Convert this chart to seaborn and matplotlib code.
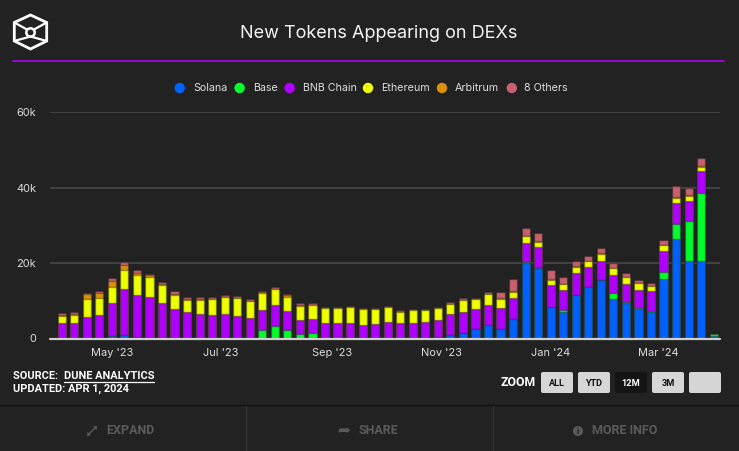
#============================= IMPORT LIBRARIES =============================

import matplotlib
matplotlib.use("Agg")
import matplotlib.pyplot as plt
from matplotlib.patches import Circle, Polygon, FancyBboxPatch
import numpy as np
import pandas as pd
import seaborn as sns

#============================= DATA ==============================

start_date = "2023-04-03"
weeks = pd.date_range(start_date, periods=53, freq="7D")

solana = [0, 0, 0, 0, 700, 970, 440, 260, 260, 0, 0, 0, 0, 0, 0, 0, 0, 0,
          0, 0, 0, 0, 0, 0, 0, 0, 0, 0, 0, 0, 440, 970, 1500, 2570, 3450, 2570,
          5220, 19900, 18600, 8230, 7080, 11600, 13540, 15400, 10350, 9290,
          7880, 7080, 15660, 26460, 20620, 20620, 700]
base = [0, 0, 0, 0, 0, 0, 0, 0, 0, 0, 0, 0, 0, 0, 0, 0, 2300, 3360,
        2300, 1240, 1500, 350, 350, 180, 0, 0, 0, 0, 0, 0, 0, 0, 0, 0, 0, 0,
        0, 265, 0, 0, 350, 0, 0, 0, 1590, 440, 265, 265, 2040, 3980, 10620,
        17970, 620]
bnb = [3980, 4160, 5750, 6280, 8760, 12200, 10970, 10800, 9200, 7880, 7080,
       6550, 6280, 6550, 6020, 5490, 5310, 5580, 5040, 3720, 3720, 3800, 3800,
       3980, 3540, 3890, 4430, 4070, 4070, 4430, 4510, 5580, 5580, 5310, 5490,
       5580, 5580, 5220, 5660, 5840, 5490, 5840, 5490, 5220, 4960, 4780, 4780,
       5220, 5490, 5490, 5220, 5840, 0]
ethereum = [1950, 1950, 4600, 4340, 4070, 4870, 5310, 5130, 4600, 3630, 3010,
            3540, 4070, 4340, 4600, 4340, 4510, 4070, 3720, 3540, 3540, 3800,
            3800, 4070, 4160, 3800, 3800, 3010, 3360, 3010, 3010, 2480, 3010,
            2480, 2740, 2390, 1590, 1680, 1330, 1420, 1420, 1590, 1420, 1860,
            1680, 1680, 1680, 1240, 1500, 1420, 1330, 970, 0]
arbitrum = [350, 440, 1330, 1420, 1770, 1500, 700, 530, 440, 180, 440, 440,
            180, 180, 180, 180, 180, 180, 350, 350, 180, 180, 180, 180, 180,
            180, 180, 180, 180, 180, 180, 180, 180, 180, 180, 180, 180, 180,
            180, 180, 180, 180, 180, 180, 180, 180, 180, 180, 180, 180, 180,
            350, 0]
others = [440, 440, 350, 530, 700, 700, 700, 350, 440, 880, 440, 440, 440, 440,
          440, 440, 265, 440, 350, 530, 440, 180, 180, 180, 180, 180, 180, 265,
          180, 180, 180, 440, 440, 180, 440, 1590, 3100, 1950, 2120, 2390, 1680,
          1240, 1150, 1240, 1150, 880, 620, 620, 1150, 2830, 1860, 2040, 0]

series_names = ["Solana", "Base", "BNB Chain", "Ethereum", "Arbitrum", "8 Others"]
series_values = [solana, base, bnb, ethereum, arbitrum, others]
series_colors = ["#0061ff", "#00ff2a", "#b000ff", "#eeff00", "#dc9205", "#c8606e"]

y_ticks = [0, 20000, 40000, 60000]
y_tick_labels = ["0", "20k", "40k", "60k"]
month_ticks = ["2023-05-01", "2023-07-01", "2023-09-01", "2023-11-01", "2024-01-01", "2024-03-01"]
month_labels = ["May '23", "Jul '23", "Sep '23", "Nov '23", "Jan '24", "Mar '24"]

#============================= FIGURE ==============================

bg = "#222222"
W, H = 739, 451

sns.set_theme(style="dark", rc={"axes.facecolor": bg, "figure.facecolor": bg})
plt.rcParams["font.family"] = ["Inter", "DejaVu Sans"]

fig = plt.figure(figsize=(W / 100, H / 100), dpi=100)

# chart area in pixels
left, right, top, bottom = 50, 720, 112, 338.5
ax = fig.add_axes([left / W, 1 - bottom / H, (right - left) / W, (bottom - top) / H])

#============================= STACKED BARS ==============================

# cumulative heights drawn from the tallest layer down
labels = [str(i) for i in range(len(weeks))]
cum = np.cumsum(np.array(series_values), axis=0)
for i in range(len(series_names) - 1, -1, -1):
    sns.barplot(x=labels, y=cum[i], color=series_colors[i], saturation=1, width=0.65,
                edgecolor=(0.13, 0.13, 0.13, 0.4), linewidth=1.0, ax=ax, zorder=3)

ax.set_xlim(-0.93, 52.5)
ax.set_ylim(0, 60000)
ax.set_xlabel("")
ax.set_ylabel("")

tick_pos = [(pd.Timestamp(d) - weeks[0]).days / 7 for d in month_ticks]
ax.set_xticks(tick_pos)
ax.set_xticklabels(month_labels, fontsize=7.9, color="#dddddd")
ax.set_yticks(y_ticks)
ax.set_yticklabels(y_tick_labels, fontsize=7.9, color="#dddddd")
ax.tick_params(axis="x", length=0, pad=6.5)
ax.tick_params(axis="y", length=0, pad=10)
ax.grid(axis="y", color="#4c4c4c", linewidth=1.1, zorder=0)
ax.grid(axis="x", visible=False)
ax.set_axisbelow(True)
for s in ax.spines.values():
    s.set_visible(False)
ax.axhline(0, color="#cfcfcf", linewidth=1.6, zorder=5, clip_on=False)

#============================= PAGE FURNITURE ==============================

# full figure overlay in pixel coordinates
ov = fig.add_axes([0, 0, 1, 1], facecolor="none")
ov.set_xlim(0, W)
ov.set_ylim(H, 0)
ov.axis("off")

ov.text(379, 33, "New Tokens Appearing on DEXs", color="#f4f4f4", fontsize=13,
        ha="center", va="center")
ov.plot([13, 724], [60.5, 60.5], color="#a800f0", lw=1.2)

# logo
hexagon = [(30.5, 15), (46.7, 22.5), (46.7, 41), (30.5, 49), (14.3, 41), (14.3, 22.5)]
ov.add_patch(Polygon(hexagon, closed=True, fill=False, edgecolor="white", lw=2, joinstyle="miter"))
ov.add_patch(Circle((30.5, 32.5), 4.2, fill=False, edgecolor="white", lw=1.8))
for x0, y0, x1, y1 in [(14.3, 22.5, 27, 29.5), (46.7, 22.5, 34, 29.5),
                       (14.3, 41, 30.5, 36.5), (46.7, 41, 30.5, 36.5)]:
    ov.plot([x0, x1], [y0, y1], color="white", lw=1.6)

# legend
dots = [179.7, 239.6, 289.6, 368, 442, 511.8]
text_x = [193, 253, 303, 381, 455, 524.5]
for name, c, dx, tx in zip(series_names, series_colors, dots, text_x):
    ov.add_patch(Circle((dx, 88), 5.2, color=c, lw=0))
    ov.text(tx, 88, name, color="#dddddd", fontsize=7.7, va="center", ha="left")

# source
condensed = ["Roboto", "DejaVu Sans"]
ov.text(13, 376, "SOURCE: ", color="white", fontsize=7.9, fontweight="bold",
        family=condensed, va="center")
ov.text(63.5, 376, "DUNE ANALYTICS", color="white", fontsize=7.9, fontweight="bold",
        family=condensed, va="center")
ov.plot([63.5, 154], [381.5, 381.5], color="white", lw=0.9)
ov.text(13, 389, "UPDATED: APR 1, 2024", color="white", fontsize=7.9, fontweight="bold",
        family=condensed, va="center")

# zoom buttons
ov.text(518, 382, "ZOOM", color="white", fontsize=8.8, fontweight="bold",
        family=condensed, ha="center", va="center")
button_x = [541, 578, 615, 652, 689]
button_labels = ["ALL", "YTD", "12M", "3M", ""]
for bx, lab in zip(button_x, button_labels):
    active = lab == "12M"
    ov.add_patch(FancyBboxPatch((bx + 1, 373), 30, 19, boxstyle="round,pad=1,rounding_size=2",
                                fc="#141414" if active else "#d6d6d6", ec="none"))
    ov.text(bx + 16, 384, lab, color="white" if active else "#111111", fontsize=6.6,
            fontweight="bold", family=condensed, ha="center", va="center")

# bottom bar
ov.plot([0, W], [405, 405], color="#111111", lw=1)
for vx in [246, 493]:
    ov.plot([vx, vx], [406, H], color="#333333", lw=1)

grey = "#5a5a5a"
# expand icon, no installed font has this arrow
ov.plot([88.5, 95.5], [434.5, 427.5], color=grey, lw=1)
ov.add_patch(Polygon([(97, 426), (93, 426.5), (96.5, 430)], color=grey, lw=0))
ov.add_patch(Polygon([(87, 436), (91, 435.5), (87.5, 432)], color=grey, lw=0))
ov.text(106, 431, "EXPAND", color=grey, fontsize=9, fontweight="bold", family=condensed,
        va="center", ha="left")
ov.text(344, 431, "\u27a6", color=grey, fontsize=11, family=["DejaVu Sans"], ha="center", va="center")
ov.text(359, 431, "SHARE", color=grey, fontsize=9, fontweight="bold", family=condensed,
        va="center", ha="left")
ov.add_patch(Circle((578, 431), 5, color=grey, lw=0))
ov.text(578, 431, "i", color=bg, fontsize=6.5, fontweight="bold", family=condensed,
        ha="center", va="center")
ov.text(592.5, 431, "MORE INFO", color=grey, fontsize=9, fontweight="bold", family=condensed,
        va="center", ha="left")

fig.savefig("out.png", dpi=100, facecolor=bg)
